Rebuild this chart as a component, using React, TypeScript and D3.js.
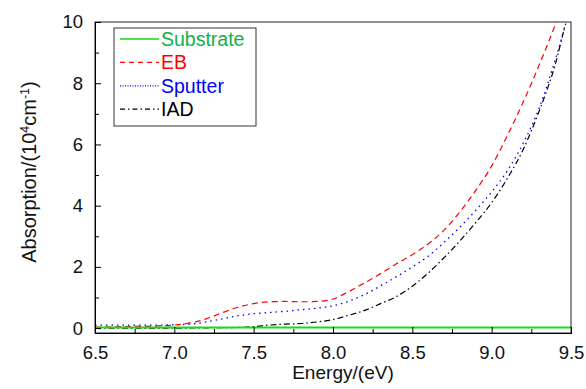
import React, { useRef, useEffect } from 'react';
import * as d3 from 'd3';

// energies (eV) and absorption (10^4 cm^-1)
const substrateX = [6.5, 7.0, 7.5, 8.0, 8.5, 9.0, 9.5];
const substrateY = [0.02, 0.02, 0.02, 0.02, 0.02, 0.02, 0.02];

const ebX = [6.5, 6.7, 6.9, 7.0, 7.1, 7.2, 7.3, 7.4, 7.5, 7.6, 7.7, 7.8, 7.9, 8.0, 8.1, 8.2, 8.3, 8.4, 8.5, 8.6, 8.7, 8.8, 8.9, 9.0, 9.1, 9.2, 9.3, 9.4, 9.45];
const ebY = [0.03, 0.05, 0.07, 0.1, 0.17, 0.3, 0.5, 0.68, 0.8, 0.86, 0.87, 0.86, 0.87, 0.95, 1.2, 1.48, 1.78, 2.1, 2.4, 2.75, 3.2, 3.8, 4.5, 5.3, 6.3, 7.4, 8.6, 9.9, 10.6];

const sputterX = [6.5, 6.7, 6.9, 7.0, 7.1, 7.2, 7.3, 7.4, 7.5, 7.6, 7.7, 7.8, 7.9, 8.0, 8.1, 8.2, 8.3, 8.4, 8.5, 8.6, 8.7, 8.8, 8.9, 9.0, 9.1, 9.2, 9.3, 9.4, 9.47];
const sputterY = [0.1, 0.1, 0.1, 0.11, 0.13, 0.2, 0.3, 0.4, 0.47, 0.51, 0.55, 0.6, 0.65, 0.73, 0.88, 1.1, 1.38, 1.68, 2.0, 2.35, 2.8, 3.3, 3.85, 4.45, 5.15, 6.05, 7.2, 8.75, 10.0];

const iadX = [6.5, 6.7, 6.9, 7.0, 7.2, 7.4, 7.5, 7.6, 7.7, 7.8, 7.9, 8.0, 8.1, 8.2, 8.3, 8.4, 8.5, 8.6, 8.7, 8.8, 8.9, 9.0, 9.1, 9.2, 9.3, 9.35, 9.4, 9.46];
const iadY = [0.0, 0.0, 0.0, 0.0, 0.01, 0.02, 0.05, 0.1, 0.13, 0.15, 0.2, 0.28, 0.42, 0.58, 0.8, 1.03, 1.37, 1.8, 2.3, 2.85, 3.45, 4.1, 4.9, 5.85, 7.1, 7.8, 8.6, 9.85];

const xMajor = [6.5, 7.0, 7.5, 8.0, 8.5, 9.0, 9.5];
const xMinor = [6.75, 7.25, 7.75, 8.25, 8.75, 9.25];
const yMajor = [0, 2, 4, 6, 8, 10];
const yMinor = [1, 3, 5, 7, 9];

const seriesNames = ['Substrate', 'EB', 'Sputter', 'IAD'];

const width = 586;
const height = 389;
const font = '"Liberation Sans", Arial, sans-serif';

const styles: Record<string, { color: string; text: string; dash: string; legendDash: string; width: number }> = {
  Substrate: { color: '#14dd14', text: '#10b048', dash: '', legendDash: '', width: 2 },
  EB: { color: '#ff0000', text: '#ff0000', dash: '6,4', legendDash: '5,4', width: 1.2 },
  Sputter: { color: '#0000ff', text: '#0000ff', dash: '1.5,4', legendDash: '1,1.5', width: 1.3 },
  IAD: { color: '#000000', text: '#000000', dash: '6,3,1.5,3', legendDash: '5,3,1.5,3', width: 1.2 },
};

const App: React.FC = () => {
  const svgRef = useRef<SVGSVGElement>(null);

  useEffect(() => {
    if (!svgRef.current) return;
    const svg = d3.select(svgRef.current);
    svg.selectAll('*').remove();

    const x = d3.scaleLinear().domain([6.5, 9.5]).range([95, 571]);
    const y = d3.scaleLinear().domain([-0.16, 10]).range([333, 22]);

    svg.append('defs').append('clipPath').attr('id', 'plot-clip')
      .append('rect')
      .attr('x', x(6.5)).attr('y', y(10))
      .attr('width', x(9.5) - x(6.5)).attr('height', y(-0.16) - y(10));

    const data: Record<string, [number, number][]> = {
      Substrate: substrateX.map((d, i) => [d, substrateY[i]]),
      EB: ebX.map((d, i) => [d, ebY[i]]),
      Sputter: sputterX.map((d, i) => [d, sputterY[i]]),
      IAD: iadX.map((d, i) => [d, iadY[i]]),
    };

    const line = d3.line<[number, number]>()
      .x(d => x(d[0]))
      .y(d => y(d[1]))
      .curve(d3.curveMonotoneX);

    const lines = svg.append('g').attr('clip-path', 'url(#plot-clip)');
    ['Sputter', 'IAD', 'EB', 'Substrate'].forEach(name => {
      const s = styles[name];
      lines.append('path')
        .datum(data[name])
        .attr('fill', 'none')
        .attr('stroke', s.color)
        .attr('stroke-width', s.width)
        .attr('stroke-dasharray', s.dash || null)
        .attr('d', line);
    });

    // frame
    svg.append('rect')
      .attr('x', x(6.5)).attr('y', y(10))
      .attr('width', x(9.5) - x(6.5)).attr('height', y(-0.16) - y(10))
      .attr('fill', 'none').attr('stroke', '#222').attr('stroke-width', 1);

    // Axes
    const xAxis = svg.append('g')
      .attr('transform', `translate(0,${y(-0.16)})`)
      .call(d3.axisBottom(x).tickValues(xMajor).tickSize(-6).tickPadding(13).tickFormat(d3.format('.1f')));
    svg.append('g')
      .attr('transform', `translate(0,${y(-0.16)})`)
      .call(d3.axisBottom(x).tickValues(xMinor).tickSize(-4).tickFormat(() => ''));

    const yAxis = svg.append('g')
      .attr('transform', `translate(${x(6.5)},0)`)
      .call(d3.axisLeft(y).tickValues(yMajor).tickSize(-6).tickPadding(12).tickFormat(d3.format('d')));
    svg.append('g')
      .attr('transform', `translate(${x(6.5)},0)`)
      .call(d3.axisLeft(y).tickValues(yMinor).tickSize(-4).tickFormat(() => ''));

    svg.selectAll('.domain').attr('stroke', '#000');
    svg.selectAll('.tick line').attr('stroke', '#000');
    [xAxis, yAxis].forEach(a => a.selectAll('text')
      .attr('font-family', font)
      .attr('font-size', '18.5px')
      .attr('fill', '#111'));

    // Axis titles
    svg.append('text')
      .attr('x', 343).attr('y', 379)
      .attr('text-anchor', 'middle')
      .attr('font-family', font).attr('font-size', '18px').attr('fill', '#111')
      .attr('transform', 'translate(343,0) scale(1.06,1) translate(-343,0)')
      .text('Energy/(eV)');

    const yTitle = svg.append('text')
      .attr('transform', 'translate(36,172) rotate(-90)')
      .attr('text-anchor', 'middle')
      .attr('font-family', font).attr('font-size', '20px').attr('fill', '#111');
    yTitle.append('tspan').text('Absorption/(10');
    yTitle.append('tspan').attr('font-size', '12.5px').attr('dy', -7).text('4');
    yTitle.append('tspan').attr('dy', 7).text('cm');
    yTitle.append('tspan').attr('font-size', '12.5px').attr('dy', -7).text('-1');
    yTitle.append('tspan').attr('dy', 7).text(')');

    // Legend
    const lg = svg.append('g');
    lg.append('rect')
      .attr('x', 114).attr('y', 28).attr('width', 142).attr('height', 98)
      .attr('fill', '#fff').attr('stroke', '#333').attr('stroke-width', 1);
    seriesNames.forEach((name, i) => {
      const s = styles[name];
      const cy = 39 + i * 23.4;
      lg.append('line')
        .attr('x1', 120).attr('x2', 159).attr('y1', cy).attr('y2', cy)
        .attr('stroke', s.color)
        .attr('stroke-width', name === 'Substrate' ? 1.3 : 1.2)
        .attr('stroke-dasharray', s.legendDash || null);
      lg.append('text')
        .attr('x', 161).attr('y', cy + 6.8)
        .attr('font-family', font).attr('font-size', '19.5px')
        .attr('fill', s.text)
        .text(name);
    });
  }, []);

  return (
    <svg ref={svgRef} width={width} height={height}
      style={{ position: 'absolute', left: 0, top: 0, background: '#fff' }} />
  );
};

export default App;
